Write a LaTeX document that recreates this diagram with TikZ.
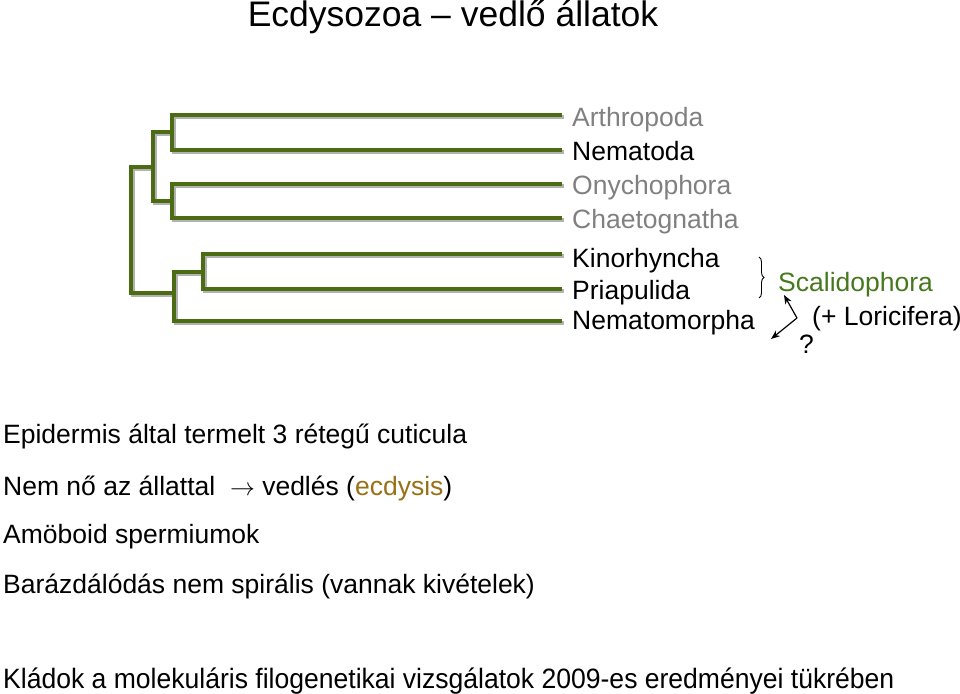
\documentclass[tikz,border=0pt]{standalone}
\usepackage{fontspec}
\setmainfont{Liberation Sans}
\usepackage{tikz}
\usetikzlibrary{arrows.meta,positioning,decorations.pathreplacing,calc}
\usepackage{xcolor}
\definecolor{treegreen}{RGB}{76,108,20}
\definecolor{scalgreen}{RGB}{70,120,30}
\definecolor{ecdbrown}{RGB}{152,112,22}
\definecolor{leafgray}{RGB}{128,128,128}

\begin{document}
\begin{tikzpicture}[x=1pt,y=-1pt,
    every node/.style={font=\fontsize{26.5}{30}\selectfont,inner sep=0pt},
    branch/.style={draw=treegreen,line width=4pt,
      preaction={draw=black!30,line width=4pt,transform canvas={shift={(1.5pt,-1.5pt)}}}},
    taxon/.style={anchor=base west},
    trait/.style={anchor=base west},
    pointer/.style={-{Stealth[length=9pt,width=7pt]},line width=1.2pt}]
  \useasboundingbox (0,0) rectangle (960,693);
  % title
  \node[anchor=base,font=\fontsize{35.5}{40}\selectfont] (title) at (453,27) {Ecdysozoa -- vedlő állatok};
  % leaves
  \node[taxon,leafgray] (arth) at (572,126) {Arthropoda};
  \node[taxon] (nema) at (572,160) {Nematoda};
  \node[taxon,leafgray] (onyc) at (572,194) {Onychophora};
  \node[taxon,leafgray] (chae) at (572,228) {Chaetognatha};
  \node[taxon] (kino) at (572,267) {Kinorhyncha};
  \node[taxon] (pria) at (572,299) {Priapulida};
  \node[taxon] (nmor) at (572,329) {Nematomorpha};
  \coordinate (tA) at (562,115);
  \coordinate (tN) at (562,150);
  \coordinate (tO) at (562,184);
  \coordinate (tC) at (562,218);
  \coordinate (tK) at (562,254);
  \coordinate (tP) at (562,289);
  \coordinate (tM) at (562,321);
  % inner nodes
  \coordinate (root) at (131,230);
  \coordinate (panoc) at (153,167);
  \coordinate (pan) at (172,132);
  \coordinate (poc) at (172,201);
  \coordinate (pkpm) at (174,293);
  \coordinate (pkp) at (203,272);
  \draw[branch] (root) |- (panoc);
  \draw[branch] (root) |- (pkpm);
  \draw[branch] (panoc) |- (pan);
  \draw[branch] (panoc) |- (poc);
  \draw[branch] (pan) |- (tA);
  \draw[branch] (pan) |- (tN);
  \draw[branch] (poc) |- (tO);
  \draw[branch] (poc) |- (tC);
  \draw[branch] (pkpm) |- (pkp);
  \draw[branch] (pkpm) |- (tM);
  \draw[branch] (pkp) |- (tK);
  \draw[branch] (pkp) |- (tP);
  % Scalidophora
  \coordinate (brtop) at (759,257);
  \coordinate (brbot) at (759,298);
  \draw[decorate,decoration={brace,amplitude=5pt},line width=0.9pt] (brtop) -- (brbot);
  \node[taxon,scalgreen] (scal) at (778,291) {Scalidophora};
  \node[taxon] (lori) at (812,325) {(+ Loricifera)};
  \node[taxon] (quest) at (799,353) {?};
  \coordinate (fork) at (797,318);
  \coordinate (nmtip) at (771,339);
  \draw[pointer] (fork) -- (784,295);
  \draw[pointer] (fork) -- (nmtip);
  % traits
  \node[trait] (cut) at (3,443) {Epidermis által termelt 3 rétegű cuticula};
  \node[trait] (molt) at (3,495) {Nem nő az állattal\ \ $\rightarrow$ vedlés (\textcolor{ecdbrown}{ecdysis})};
  \node[trait] (sperm) at (3,543) {Amöboid spermiumok};
  \node[trait] (cleav) at (3,593) {Barázdálódás nem spirális (vannak kivételek)};
  \node[trait,font=\fontsize{28}{32}\selectfont] (note) at (3,688) {\scalebox{0.948}[1]{Kládok a molekuláris filogenetikai vizsgálatok 2009-es eredményei tükrében}};
\end{tikzpicture}
\end{document}
